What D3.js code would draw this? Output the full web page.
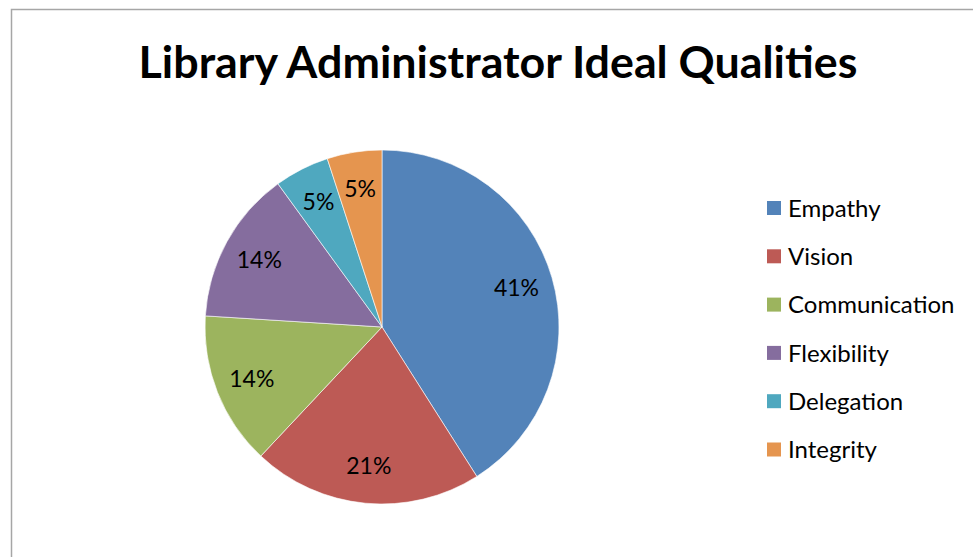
<!DOCTYPE html>
<html>
<head>
<meta charset="utf-8">
<script src="https://cdn.jsdelivr.net/npm/d3@7"></script>
<style>
  body { margin: 0; background: #fff; }
  svg { display: block; }
</style>
</head>
<body>
<div id="chart"></div>
<script>
const categories = ["Empathy", "Vision", "Communication", "Flexibility", "Delegation", "Integrity"];
const values = [41, 21, 14, 14, 5, 5];
const colors = ["#5383B9", "#BD5A55", "#9CB45E", "#856D9E", "#4FA8BF", "#E5954F"];

const width = 973;
const height = 557;
const cx = 382;
const cy = 327;
const radius = 177;
const font = "Lato, sans-serif";

const svg = d3.select("#chart").append("svg")
  .attr("width", width)
  .attr("height", height);

// chart frame
svg.append("rect")
  .attr("x", 11.5)
  .attr("y", 9.5)
  .attr("width", 1000)
  .attr("height", 600)
  .attr("fill", "#fff")
  .attr("stroke", "#a6a6a6")
  .attr("stroke-width", 1.5);

const title = svg.append("text")
  .text("Library Administrator Ideal Qualities")
  .attr("x", 498)
  .attr("y", 78)
  .attr("text-anchor", "middle")
  .attr("font-family", font)
  .attr("font-weight", "bold")
  .attr("font-size", 42)
  .attr("fill", "#000");

// fit title to the width it has in the original (~719px)
const tw = title.node().getComputedTextLength();
title.attr("font-size", 42 * 719 / tw);

const data = categories.map((c, i) => ({ name: c, value: values[i] }));

const color = d3.scaleOrdinal().domain(categories).range(colors);

const pie = d3.pie().value((d) => d.value).sort(null);
const arc = d3.arc().innerRadius(0).outerRadius(radius);
const labelArc = d3.arc().innerRadius(140).outerRadius(140);

const g = svg.append("g").attr("transform", `translate(${cx}, ${cy})`);

const slices = g.selectAll("g.slice")
  .data(pie(data))
  .join("g")
  .attr("class", "slice");

slices.append("path")
  .attr("d", arc)
  .attr("fill", (d) => color(d.data.name))
  .attr("stroke", "#fff")
  .attr("stroke-width", 0.6);

const total = d3.sum(values);
slices.append("text")
  .attr("transform", (d) => `translate(${labelArc.centroid(d)})`)
  .attr("text-anchor", "middle")
  .attr("dy", "0.35em")
  .attr("font-family", font)
  .attr("font-size", 23)
  .attr("fill", "#000")
  .text((d) => Math.round((d.data.value / total) * 100) + "%");

const legend = svg.append("g")
  .attr("transform", "translate(767, 208)")
  .selectAll("g")
  .data(categories)
  .join("g")
  .attr("transform", (d, i) => `translate(0, ${i * 48.3})`);

legend.append("rect")
  .attr("x", 0)
  .attr("y", -7)
  .attr("width", 14)
  .attr("height", 14)
  .attr("fill", (d) => color(d));

legend.append("text")
  .attr("x", 21)
  .attr("y", 0)
  .attr("dy", "0.36em")
  .attr("font-family", font)
  .attr("font-size", 24)
  .attr("fill", "#000")
  .text((d) => d);
</script>
</body>
</html>
